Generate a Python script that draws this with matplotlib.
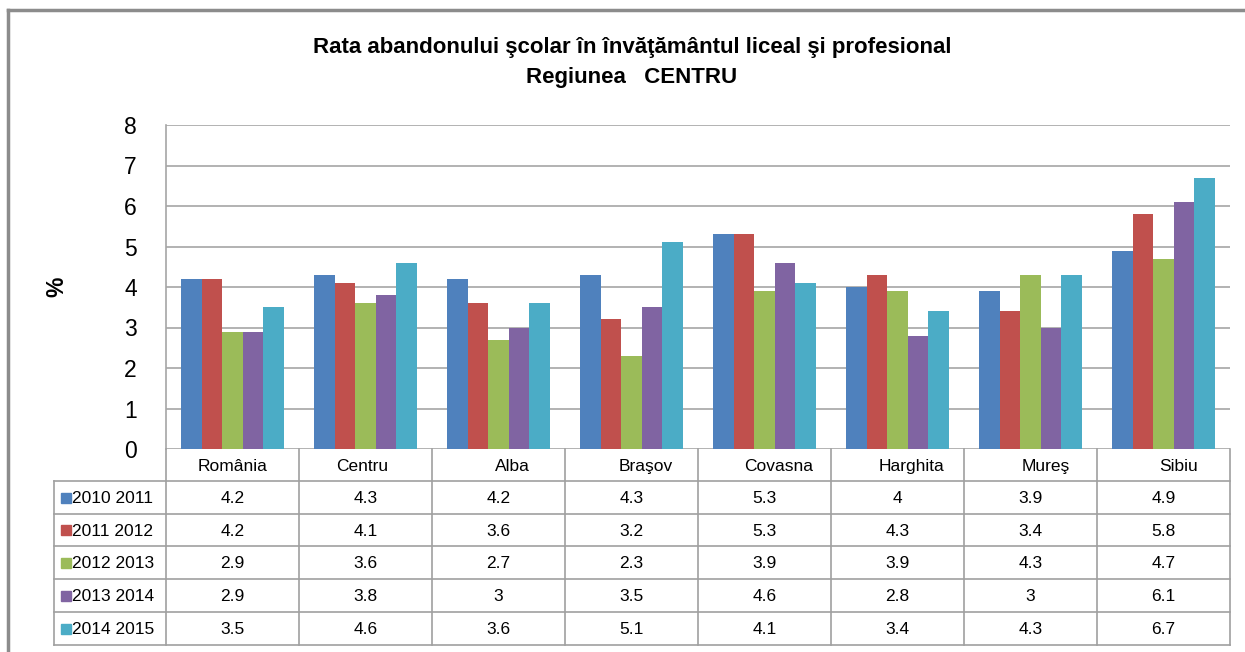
import matplotlib
matplotlib.use("Agg")
import matplotlib.pyplot as plt
from matplotlib.font_manager import fontManager
from matplotlib.lines import Line2D
from matplotlib.patches import Rectangle

categories = ["România", "Centru", "Alba", "Braşov", "Covasna", "Harghita", "Mureş", "Sibiu"]
series_labels = ["2010 2011", "2011 2012", "2012 2013", "2013 2014", "2014 2015"]
s2010 = [4.2, 4.3, 4.2, 4.3, 5.3, 4.0, 3.9, 4.9]
s2011 = [4.2, 4.1, 3.6, 3.2, 5.3, 4.3, 3.4, 5.8]
s2012 = [2.9, 3.6, 2.7, 2.3, 3.9, 3.9, 4.3, 4.7]
s2013 = [2.9, 3.8, 3.0, 3.5, 4.6, 2.8, 3.0, 6.1]
s2014 = [3.5, 4.6, 3.6, 5.1, 4.1, 3.4, 4.3, 6.7]
table_text = [
    ["4.2", "4.3", "4.2", "4.3", "5.3", "4", "3.9", "4.9"],
    ["4.2", "4.1", "3.6", "3.2", "5.3", "4.3", "3.4", "5.8"],
    ["2.9", "3.6", "2.7", "2.3", "3.9", "3.9", "4.3", "4.7"],
    ["2.9", "3.8", "3", "3.5", "4.6", "2.8", "3", "6.1"],
    ["3.5", "4.6", "3.6", "5.1", "4.1", "3.4", "4.3", "6.7"],
]
series = [s2010, s2011, s2012, s2013, s2014]
colors = ["#4F81BD", "#C0504D", "#9BBB59", "#8064A2", "#4BACC6"]
yticks = [0, 1, 2, 3, 4, 5, 6, 7, 8]

names = {f.name for f in fontManager.ttflist}
narrow = "Liberation Sans Narrow" if "Liberation Sans Narrow" in names else "Liberation Sans"
regular = "Liberation Sans"

W, H = 1245, 652
fig = plt.figure(figsize=(W / 100, H / 100), dpi=100)

def fx(px):
    return px / W

def fy(py):
    return 1 - py / H

# outer frame (left & top visible)
fig.add_artist(Line2D([fx(8), fx(8)], [fy(10), fy(652)], color="#8c8c8c", lw=2.5, transform=fig.transFigure))
fig.add_artist(Line2D([fx(8), fx(1245)], [fy(10), fy(10)], color="#8c8c8c", lw=2.5, transform=fig.transFigure))

L, R, T, B = 166, 1230, 125, 449
ax = fig.add_axes([fx(L), fy(B), fx(R - L), (B - T) / H])
n = len(series)
bw = 0.154
x = list(range(len(categories)))
for i, (vals, c) in enumerate(zip(series, colors)):
    offs = (i - (n - 1) / 2) * bw
    ax.bar([xi + offs for xi in x], vals, width=bw, color=c, zorder=3, linewidth=0)
ax.set_xlim(-0.5, len(categories) - 0.5)
ax.set_ylim(0, 8)
ax.set_yticks(yticks)
ax.set_yticklabels([str(t) for t in yticks], fontfamily=narrow, fontsize=16.5)
ax.set_xticks([])
ax.tick_params(axis="y", length=0, pad=21)
ax.grid(axis="y", color="#a6a6a6", lw=1.2, zorder=0)
for s in ["top", "right", "bottom"]:
    ax.spines[s].set_visible(False)
ax.spines["left"].set_color("#a6a6a6")
ax.spines["left"].set_linewidth(1.2)

fig.text(fx(57), fy(287), "%", rotation=90, fontsize=16.5, fontweight="bold",
         fontfamily=regular, ha="center", va="center")

fig.text(fx(632), fy(48), "Rata abandonului şcolar în învăţământul liceal şi profesional",
         fontsize=16, fontweight="bold", fontfamily=narrow, ha="center", va="center")
fig.text(fx(632), fy(77), "Regiunea   CENTRU",
         fontsize=16, fontweight="bold", fontfamily=narrow, ha="center", va="center")

# data table
TL, TB = 54, 645
rows = [449, 481, 514, 546, 579, 612, 645]
header_shift_px = [0, -3, 14, 14, 14, 14, 15, 15]
tax = fig.add_axes([fx(TL), fy(TB), fx(R - TL), (TB - B) / H])
unit = (R - L) / len(categories)
xl = -0.5 - (L - TL) / unit
xr = len(categories) - 0.5
tax.set_xlim(xl, xr)
tax.set_ylim(TB, B)
tax.axis("off")
lc = "#a0a0a0"
lw = 1.2
for ry in rows[1:]:
    tax.plot([xl, xr], [ry, ry], color=lc, lw=lw, clip_on=False)
tax.plot([xl, xl], [rows[1], rows[-1]], color=lc, lw=lw, clip_on=False)
for k in range(len(categories) + 1):
    xv = k - 0.5
    tax.plot([xv, xv], [rows[0], rows[-1]], color=lc, lw=lw, clip_on=False)
for k, cat in enumerate(categories):
    tax.text(k + header_shift_px[k] / unit, (rows[0] + rows[1]) / 2 + 1, cat,
             ha="center", va="center", fontsize=12.5, fontfamily=regular)
for r, (lab, c) in enumerate(zip(series_labels, colors)):
    yc = (rows[r + 1] + rows[r + 2]) / 2
    sq = 10 / unit
    tax.add_patch(Rectangle((xl + 7 / unit, yc - 5), sq, 10, color=c, clip_on=False))
    tax.text(xl + 18 / unit, yc + 1, lab, ha="left", va="center", fontsize=12.5,
             fontfamily=regular)
    for k in range(len(categories)):
        tax.text(k, yc + 1, table_text[r][k], ha="center", va="center",
                 fontsize=12.5, fontfamily=regular)

fig.savefig("out.png", dpi=100)
